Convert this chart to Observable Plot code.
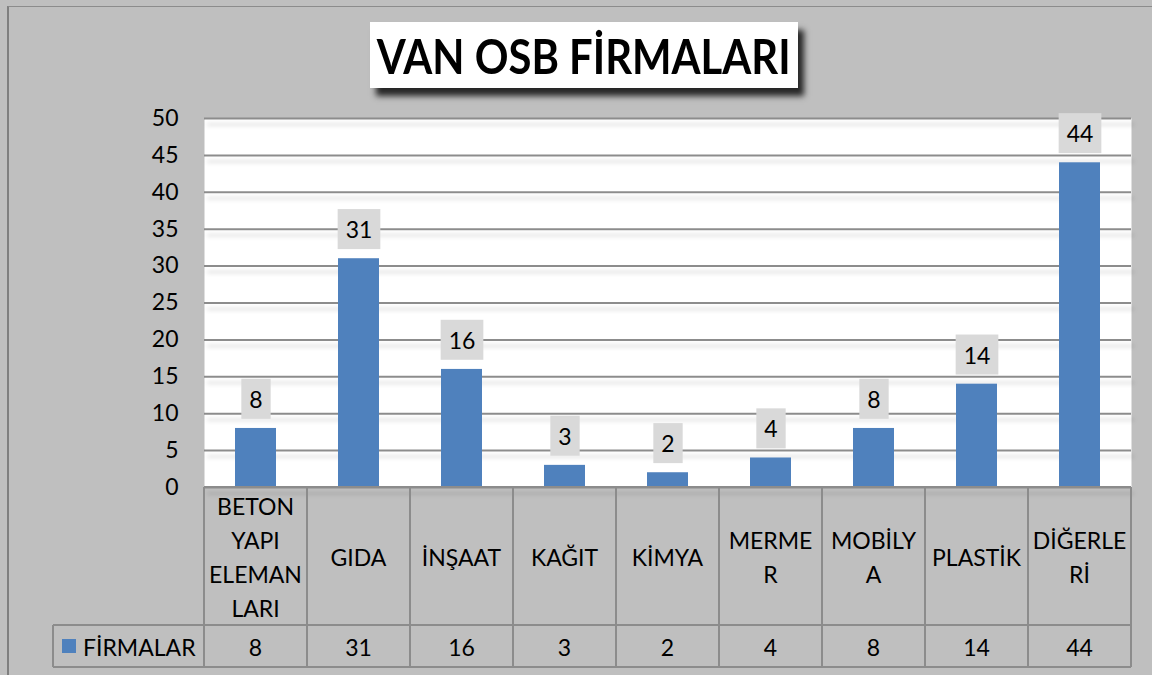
<!DOCTYPE html>
<html><head><meta charset="utf-8">
<script src="https://cdn.jsdelivr.net/npm/d3@7"></script>
<script src="https://cdn.jsdelivr.net/npm/@observablehq/plot@0.6"></script>
<style>
html,body{margin:0;padding:0;background:#bfbfbf;}
#wrap{position:relative;width:1152px;height:675px;background:#bfbfbf;overflow:hidden;font-family:Lato,sans-serif;}
#edge{position:absolute;left:7px;top:6px;right:0;bottom:0;border-left:2px solid #7f7f7f;border-top:1px solid #8c8c8c;pointer-events:none;}
#title{position:absolute;left:370px;top:22px;width:428px;height:66px;background:#fff;box-shadow:6px 8px 6px rgba(0,0,0,0.8);display:flex;align-items:center;justify-content:center;font-weight:bold;font-size:48px;color:#000;z-index:2;white-space:nowrap;}
#title span{display:inline-block;transform-origin:center center;}
#chart{position:absolute;left:0;top:0;}
</style></head><body>
<div id="wrap"><div id="edge"></div><div id="chart"></div><div id="title"><span id="tt">VAN OSB FİRMALARI</span></div></div>
<script>
const categories = ["BETON\nYAPI\nELEMAN\nLARI", "GIDA", "İNŞAAT", "KAĞIT", "KİMYA", "MERME\nR", "MOBİLY\nA", "PLASTİK", "DİĞERLE\nRİ"];
const values = [8, 31, 16, 3, 2, 4, 8, 14, 44];
const seriesName = "FİRMALAR";
const yTicks = [0, 5, 10, 15, 20, 25, 30, 35, 40, 45, 50];

const data = categories.map((c, i) => ({category: c, value: values[i]}));
const barColor = "#4f81bd";
const lineColor = "#8c8c8c";

const plot = Plot.plot({
  width: 1152, height: 675,
  marginLeft: 204, marginRight: 21, marginTop: 118, marginBottom: 188,
  style: {background: "transparent", fontFamily: "Lato, sans-serif", fontSize: "23px", color: "#000", overflow: "visible"},
  x: {domain: categories, padding: 0, axis: null},
  y: {domain: [0, 50], ticks: yTicks, tickSize: 0, tickPadding: 26, label: null},
  marks: [
    Plot.frame({fill: "#fff", stroke: null}),
    Plot.ruleY(yTicks, {stroke: lineColor, strokeWidth: 2}),
    Plot.barY(data, {x: "category", y: "value", fill: barColor, insetLeft: 31, insetRight: 31}),
    Plot.text(data, {x: "category", y: "value", text: d => String(d.value), dy: -28, fontSize: 23, fill: "#000"})
  ]
});
document.getElementById("chart").appendChild(plot);

const svg = d3.select(plot);
// gridline shadow
const defs = svg.insert("defs", ":first-child");
const f = defs.append("filter").attr("id", "gs").attr("x", "-2%").attr("y", "-10%").attr("width", "104%").attr("height", "130%");
f.append("feDropShadow").attr("dx", 3).attr("dy", 6).attr("stdDeviation", 2).attr("flood-color", "#000").attr("flood-opacity", 0.16);
svg.selectAll('g[aria-label="rule"]').attr("filter", "url(#gs)");

// label boxes
svg.selectAll('g[aria-label="text"] text').each(function() {
  const bb = this.getBBox();
  const cy = bb.y + bb.height / 2;
  const r = document.createElementNS("http://www.w3.org/2000/svg", "rect");
  r.setAttribute("x", bb.x - 8);
  r.setAttribute("y", cy - 20);
  r.setAttribute("width", bb.width + 16);
  r.setAttribute("height", 40);
  r.setAttribute("fill", "#d9d9d9");
  const tr = this.getAttribute("transform");
  if (tr) r.setAttribute("transform", tr);
  this.parentNode.insertBefore(r, this);
});

// data table
const xs = plot.scale("x");
const ys = plot.scale("y");
const y0 = ys.apply(0);
const left = xs.apply(categories[0]);
const right = xs.apply(categories[categories.length - 1]) + xs.bandwidth;
const catH = 138, valH = 42, legendLeft = 53;
const t = svg.append("g").attr("stroke", lineColor).attr("stroke-width", 2);
t.append("line").attr("x1", left).attr("x2", right).attr("y1", y0).attr("y2", y0);
t.append("line").attr("x1", legendLeft).attr("x2", right).attr("y1", y0 + catH).attr("y2", y0 + catH);
t.append("line").attr("x1", legendLeft).attr("x2", right).attr("y1", y0 + catH + valH).attr("y2", y0 + catH + valH);
t.append("line").attr("x1", legendLeft).attr("x2", legendLeft).attr("y1", y0 + catH).attr("y2", y0 + catH + valH);
categories.forEach(c => {
  const xv = xs.apply(c);
  t.append("line").attr("x1", xv).attr("x2", xv).attr("y1", y0).attr("y2", y0 + catH + valH);
});
t.append("line").attr("x1", right).attr("x2", right).attr("y1", y0).attr("y2", y0 + catH + valH);

const tg = svg.append("g").attr("font-family", "Lato, sans-serif").attr("font-size", 23).attr("fill", "#000").attr("text-anchor", "middle");
categories.forEach((c, i) => {
  const cx = xs.apply(c) + xs.bandwidth / 2;
  const lines = c.split("\n");
  const lh = 34;
  const txt = tg.append("text").attr("dominant-baseline", "central");
  lines.forEach((ln, j) => {
    txt.append("tspan").attr("x", cx).attr("y", y0 + catH / 2 + (j - (lines.length - 1) / 2) * lh + 1).text(ln);
  });
  tg.append("text").attr("dominant-baseline", "central").attr("x", cx).attr("y", y0 + catH + valH / 2 + 1).text(String(values[i]));
});
svg.append("rect").attr("x", legendLeft + 9).attr("y", y0 + catH + valH / 2 - 7).attr("width", 14).attr("height", 14).attr("fill", barColor);
tg.append("text").attr("text-anchor", "start").attr("dominant-baseline", "central")
  .attr("x", legendLeft + 30).attr("y", y0 + catH + valH / 2 + 1).text(seriesName);

// title fit
const tt = document.getElementById("tt");
const w = tt.getBoundingClientRect().width;
tt.style.transform = `scaleX(${414 / w})`;
</script>
</body></html>
